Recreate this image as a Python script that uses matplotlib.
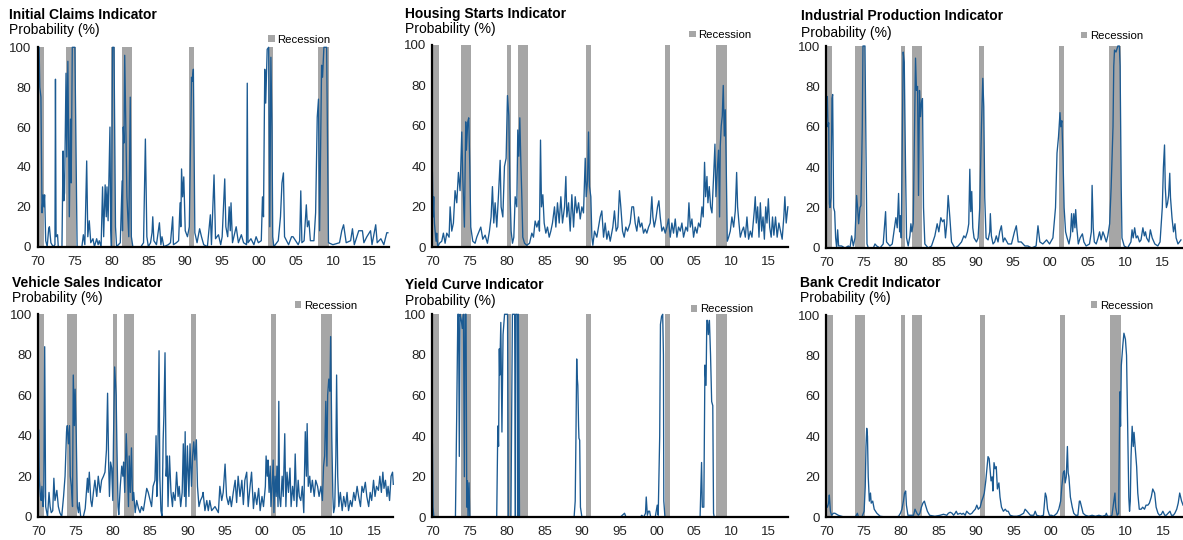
import matplotlib
matplotlib.use('Agg')
import matplotlib.pyplot as plt
from matplotlib.patches import Patch

plt.rcParams['font.family'] = ['Liberation Sans', 'DejaVu Sans']

# ---------------- data ----------------
rec_start = [1969.92, 1973.83, 1980.0, 1981.5, 1990.5, 2001.17, 2007.92]
rec_end = [1970.83, 1975.17, 1980.55, 1982.83, 1991.17, 2001.83, 2009.42]

tick_years = [1970, 1975, 1980, 1985, 1990, 1995, 2000, 2005, 2010, 2015]
tick_labels = ['70', '75', '80', '85', '90', '95', '00', '05', '10', '15']
y_ticks = [0, 20, 40, 60, 80, 100]

titles = ['Initial Claims Indicator', 'Housing Starts Indicator', 'Industrial Production Indicator',
          'Vehicle Sales Indicator', 'Yield Curve Indicator', 'Bank Credit Indicator']
subtitle = 'Probability (%)'
legend_label = 'Recession'

claims_pts = [(1970.0, 100), (1970.2, 100), (1970.3, 80), (1970.45, 75), (1970.6, 17), (1970.75, 26), (1970.85, 20),
    (1970.95, 26), (1971.1, 3), (1971.3, 0), (1971.5, 9), (1971.6, 10), (1971.8, 2), (1972.1, 0), (1972.35, 1),
    (1972.42, 84), (1972.5, 5), (1972.7, 6), (1972.8, 0), (1973.3, 0), (1973.45, 48), (1973.55, 23), (1973.65, 27),
    (1973.85, 87), (1973.95, 45), (1974.1, 93), (1974.3, 15), (1974.45, 64), (1974.55, 32), (1974.7, 100),
    (1975.05, 100), (1975.2, 50), (1975.35, 0), (1976.0, 0), (1976.2, 6), (1976.4, 1), (1976.65, 43), (1976.8, 5),
    (1977.0, 13), (1977.2, 2), (1977.5, 4), (1977.7, 0), (1978.0, 4), (1978.2, 1), (1978.35, 3), (1978.6, 0),
    (1978.8, 30), (1978.95, 5), (1979.15, 31), (1979.3, 15), (1979.4, 30), (1979.55, 13), (1979.8, 60), (1979.9, 10),
    (1980.0, 0), (1980.15, 100), (1980.35, 100), (1980.55, 10), (1980.7, 0), (1981.2, 2), (1981.45, 33), (1981.5, 8),
    (1981.6, 60), (1981.7, 52), (1981.8, 96), (1981.95, 60), (1982.1, 25), (1982.35, 5), (1982.55, 75), (1982.7, 5),
    (1982.9, 0), (1984.0, 0), (1984.35, 2), (1984.6, 54), (1984.8, 5), (1985.0, 0), (1985.3, 2), (1985.5, 7),
    (1985.6, 15), (1985.75, 3), (1986.1, 1), (1986.5, 12), (1986.7, 1), (1986.85, 5), (1987.1, 0), (1987.7, 1),
    (1988.0, 2), (1988.3, 15), (1988.4, 1), (1988.8, 2), (1989.1, 3), (1989.3, 22), (1989.4, 10), (1989.5, 39),
    (1989.65, 25), (1989.8, 35), (1990.0, 8), (1990.3, 5), (1990.55, 10), (1990.85, 85), (1990.95, 83), (1991.1, 89),
    (1991.3, 7), (1991.6, 2), (1991.95, 9), (1992.2, 5), (1992.5, 1), (1993.0, 0), (1993.4, 16), (1993.55, 1),
    (1993.9, 36), (1994.1, 4), (1994.5, 6), (1994.8, 1), (1995.0, 5), (1995.35, 34), (1995.5, 10), (1995.75, 5),
    (1995.95, 20), (1996.1, 8), (1996.2, 22), (1996.4, 2), (1996.9, 10), (1997.2, 2), (1997.6, 6), (1997.9, 2),
    (1998.3, 1), (1998.4, 82), (1998.5, 2), (1998.9, 4), (1999.3, 1), (1999.6, 5), (1999.9, 2), (2000.3, 3),
    (2000.46, 25), (2000.6, 15), (2000.77, 89), (2000.9, 72), (2001.1, 99), (2001.3, 100), (2001.45, 10),
    (2001.6, 95), (2001.75, 60), (2001.85, 5), (2002.0, 0), (2002.4, 2), (2002.6, 3), (2002.9, 15), (2003.1, 32),
    (2003.3, 37), (2003.45, 5), (2004.0, 1), (2004.4, 5), (2004.6, 5), (2005.3, 1), (2005.5, 3), (2005.65, 28),
    (2005.8, 2), (2006.1, 3), (2006.4, 21), (2006.55, 10), (2006.75, 13), (2006.95, 3), (2007.43, 3), (2007.66, 17),
    (2007.88, 65), (2008.05, 74), (2008.2, 8), (2008.47, 91), (2008.6, 85), (2008.78, 100), (2009.15, 100),
    (2009.4, 2), (2010.0, 1), (2010.9, 2), (2011.2, 8), (2011.45, 11), (2011.8, 2), (2012.4, 3), (2012.65, 9),
    (2012.9, 1), (2013.5, 8), (2014.0, 8), (2014.2, 2), (2014.6, 5), (2015.1, 8), (2015.3, 1), (2015.8, 11),
    (2016.0, 2), (2016.5, 4), (2016.9, 1), (2017.3, 7), (2017.45, 7)]

housing_pts = [(1970.0, 37), (1970.09, 15), (1970.18, 25), (1970.27, 12), (1970.36, 8), (1970.49, 3), (1970.58, 7),
    (1970.71, 0), (1970.94, 2), (1971.25, 3), (1971.47, 7), (1971.7, 2), (1971.92, 7), (1972.23, 5), (1972.37, 20),
    (1972.59, 8), (1972.81, 12), (1973.03, 28), (1973.26, 22), (1973.48, 37), (1973.7, 28), (1973.93, 57),
    (1974.06, 35), (1974.19, 20), (1974.28, 10), (1974.46, 62), (1974.55, 48), (1974.73, 62), (1974.86, 64),
    (1975.0, 40), (1975.13, 10), (1975.4, 3), (1975.71, 2), (1975.93, 5), (1976.25, 8), (1976.47, 10), (1976.74, 4),
    (1977.05, 6), (1977.36, 2), (1977.63, 8), (1977.85, 15), (1978.03, 30), (1978.21, 12), (1978.39, 22),
    (1978.61, 10), (1978.84, 26), (1979.06, 43), (1979.19, 20), (1979.42, 15), (1979.64, 40), (1979.86, 44),
    (1980.04, 75), (1980.22, 65), (1980.36, 30), (1980.53, 8), (1980.71, 2), (1980.89, 5), (1981.07, 25),
    (1981.29, 20), (1981.42, 58), (1981.56, 45), (1981.69, 64), (1981.83, 42), (1981.96, 25), (1982.09, 5),
    (1982.32, 2), (1982.63, 1), (1982.99, 2), (1983.3, 7), (1983.52, 5), (1983.74, 13), (1983.97, 10), (1984.19, 13),
    (1984.32, 8), (1984.46, 53), (1984.59, 20), (1984.77, 26), (1984.95, 12), (1985.17, 7), (1985.39, 10),
    (1985.62, 5), (1985.84, 8), (1986.06, 12), (1986.33, 20), (1986.51, 10), (1986.73, 22), (1986.96, 12),
    (1987.18, 25), (1987.4, 12), (1987.67, 20), (1987.85, 35), (1987.98, 15), (1988.21, 22), (1988.43, 8),
    (1988.65, 26), (1988.88, 10), (1989.1, 25), (1989.32, 17), (1989.55, 22), (1989.77, 14), (1989.99, 20),
    (1990.21, 17), (1990.44, 44), (1990.57, 25), (1990.75, 33), (1990.88, 57), (1991.01, 30), (1991.19, 25),
    (1991.33, 5), (1991.46, 1), (1991.68, 8), (1991.99, 5), (1992.22, 10), (1992.44, 15), (1992.66, 18),
    (1992.89, 5), (1993.11, 12), (1993.33, 4), (1993.55, 8), (1993.78, 3), (1994.13, 10), (1994.35, 18),
    (1994.58, 8), (1994.8, 10), (1995.02, 28), (1995.2, 20), (1995.43, 8), (1995.65, 5), (1995.87, 10), (1996.1, 8),
    (1996.45, 12), (1996.68, 20), (1996.9, 20), (1997.12, 12), (1997.34, 8), (1997.57, 15), (1997.79, 10),
    (1998.01, 12), (1998.24, 7), (1998.46, 9), (1998.68, 7), (1998.91, 10), (1999.13, 12), (1999.35, 25),
    (1999.49, 15), (1999.67, 10), (1999.89, 14), (2000.11, 20), (2000.29, 23), (2000.47, 15), (2000.69, 8),
    (2000.91, 10), (2001.14, 7), (2001.36, 10), (2001.58, 14), (2001.81, 5), (2002.03, 12), (2002.25, 7),
    (2002.48, 14), (2002.7, 5), (2002.92, 10), (2003.15, 8), (2003.37, 12), (2003.59, 5), (2003.9, 10), (2004.13, 8),
    (2004.31, 22), (2004.49, 10), (2004.71, 14), (2004.93, 5), (2005.15, 10), (2005.38, 7), (2005.6, 12),
    (2005.82, 10), (2006.05, 20), (2006.22, 15), (2006.4, 42), (2006.54, 25), (2006.72, 35), (2006.85, 22),
    (2007.03, 30), (2007.21, 20), (2007.39, 17), (2007.61, 35), (2007.79, 51), (2007.92, 25), (2008.1, 38),
    (2008.27, 48), (2008.41, 15), (2008.5, 50), (2008.63, 60), (2008.77, 65), (2008.9, 80), (2009.04, 55),
    (2009.17, 68), (2009.3, 40), (2009.44, 3), (2009.62, 5), (2009.84, 8), (2010.06, 15), (2010.29, 10),
    (2010.51, 18), (2010.69, 37), (2010.82, 20), (2011.0, 12), (2011.18, 5), (2011.4, 8), (2011.62, 10),
    (2011.85, 5), (2012.07, 15), (2012.29, 4), (2012.52, 8), (2012.74, 5), (2013.05, 18), (2013.18, 25),
    (2013.32, 12), (2013.5, 20), (2013.68, 5), (2013.86, 22), (2014.04, 8), (2014.22, 15), (2014.4, 4),
    (2014.58, 20), (2014.75, 12), (2014.93, 24), (2015.11, 10), (2015.31, 5), (2015.49, 15), (2015.67, 6),
    (2015.89, 15), (2016.11, 5), (2016.34, 12), (2016.56, 8), (2016.78, 4), (2017.0, 15), (2017.14, 25),
    (2017.32, 12), (2017.54, 20)]

ip_pts = [(1970.0, 62), (1970.05, 70), (1970.14, 75), (1970.23, 60), (1970.32, 62), (1970.41, 22), (1970.49, 20),
    (1970.63, 25), (1970.76, 74), (1970.85, 76), (1970.98, 20), (1971.12, 18), (1971.25, 5), (1971.39, 0),
    (1971.52, 9), (1971.65, 1), (1972.05, 1), (1972.5, 0), (1972.95, 1), (1973.17, 0), (1973.39, 6), (1973.62, 1),
    (1973.84, 5), (1974.06, 26), (1974.19, 20), (1974.33, 12), (1974.51, 20), (1974.64, 21), (1974.82, 60),
    (1974.91, 100), (1975.18, 100), (1975.31, 50), (1975.45, 2), (1975.63, 0), (1976.3, 0), (1976.52, 2),
    (1976.75, 1), (1977.19, 0), (1977.62, 2), (1977.94, 18), (1978.07, 3), (1978.52, 1), (1978.83, 2), (1979.05, 8),
    (1979.32, 15), (1979.5, 10), (1979.68, 27), (1979.82, 8), (1979.91, 16), (1980.04, 5), (1980.17, 50),
    (1980.3, 97), (1980.44, 92), (1980.61, 40), (1980.75, 5), (1980.97, 1), (1981.2, 6), (1981.33, 12),
    (1981.46, 8), (1981.64, 12), (1981.82, 60), (1981.95, 94), (1982.08, 78), (1982.22, 80), (1982.35, 26),
    (1982.48, 78), (1982.62, 65), (1982.75, 72), (1982.88, 74), (1983.02, 20), (1983.2, 2), (1983.64, 0),
    (1984.09, 1), (1984.54, 6), (1984.85, 12), (1985.07, 8), (1985.34, 15), (1985.56, 13), (1985.78, 14),
    (1985.96, 5), (1986.14, 12), (1986.32, 26), (1986.55, 15), (1986.77, 3), (1987.22, 0), (1987.66, 1),
    (1988.11, 3), (1988.42, 6), (1988.64, 5), (1988.9, 8), (1989.08, 12), (1989.22, 39), (1989.35, 18),
    (1989.48, 28), (1989.62, 10), (1989.79, 5), (1990.11, 3), (1990.33, 5), (1990.55, 20), (1990.78, 60),
    (1990.96, 84), (1991.09, 70), (1991.22, 25), (1991.4, 5), (1991.67, 4), (1991.89, 8), (1991.97, 17),
    (1992.11, 6), (1992.33, 2), (1992.55, 3), (1992.77, 6), (1993.0, 3), (1993.22, 8), (1993.45, 11), (1993.69, 3),
    (1993.9, 5), (1994.35, 2), (1994.8, 2), (1995.2, 8), (1995.45, 11), (1995.7, 3), (1996.1, 3), (1996.6, 1),
    (1997.0, 1), (1997.5, 0), (1998.1, 1), (1998.35, 11), (1998.6, 3), (1999.0, 2), (1999.5, 4), (1999.9, 2),
    (2000.35, 5), (2000.7, 20), (2000.9, 47), (2001.1, 55), (2001.3, 67), (2001.4, 60), (2001.55, 63), (2001.7, 45),
    (2001.85, 20), (2002.05, 8), (2002.25, 5), (2002.5, 2), (2002.7, 6), (2002.85, 17), (2003.0, 8), (2003.15, 17),
    (2003.3, 10), (2003.4, 19), (2003.55, 10), (2003.75, 2), (2004.0, 5), (2004.3, 7), (2004.5, 3), (2004.8, 1),
    (2005.25, 2), (2005.5, 8), (2005.6, 31), (2005.75, 10), (2005.9, 3), (2006.15, 2), (2006.4, 5), (2006.6, 8),
    (2006.8, 4), (2007.05, 8), (2007.25, 6), (2007.5, 3), (2007.7, 6), (2007.95, 12), (2008.15, 30), (2008.4, 60),
    (2008.5, 90), (2008.6, 98), (2008.8, 97), (2009.05, 100), (2009.25, 100), (2009.35, 90), (2009.5, 30),
    (2009.6, 5), (2009.9, 1), (2010.35, 0), (2010.8, 3), (2010.95, 9), (2011.1, 5), (2011.3, 10), (2011.5, 5),
    (2011.7, 6), (2011.95, 3), (2012.15, 4), (2012.4, 10), (2012.6, 6), (2012.75, 8), (2012.9, 5), (2013.2, 3),
    (2013.4, 9), (2013.65, 5), (2014.0, 2), (2014.4, 1), (2014.7, 3), (2015.0, 20), (2015.15, 40), (2015.3, 51),
    (2015.4, 30), (2015.55, 20), (2015.7, 22), (2015.85, 26), (2016.0, 37), (2016.1, 25), (2016.3, 15), (2016.5, 8),
    (2016.7, 12), (2016.85, 5), (2017.1, 2), (2017.3, 3), (2017.5, 4)]

vehicle_pts = [(1970.0, 20), (1970.05, 43), (1970.15, 18), (1970.3, 10), (1970.4, 8), (1970.5, 15), (1970.65, 5),
    (1970.75, 10), (1970.87, 84), (1971.0, 5), (1971.15, 2), (1971.25, 0), (1971.45, 12), (1971.6, 5), (1971.75, 2),
    (1971.95, 3), (1972.1, 19), (1972.25, 8), (1972.5, 13), (1972.7, 5), (1972.9, 2), (1973.15, 0), (1973.4, 10),
    (1973.6, 20), (1973.8, 42), (1973.9, 45), (1974.05, 36), (1974.2, 45), (1974.3, 20), (1974.45, 15), (1974.6, 5),
    (1974.7, 70), (1974.85, 45), (1974.95, 63), (1975.1, 40), (1975.25, 5), (1975.4, 2), (1975.5, 7), (1975.7, 0),
    (1976.05, 0), (1976.3, 4), (1976.6, 19), (1976.7, 12), (1976.85, 22), (1977.05, 8), (1977.2, 5), (1977.4, 12),
    (1977.6, 18), (1977.85, 10), (1978.05, 20), (1978.3, 12), (1978.5, 18), (1978.75, 20), (1978.95, 22),
    (1979.15, 33), (1979.3, 61), (1979.45, 25), (1979.55, 10), (1979.7, 27), (1979.85, 24), (1980.0, 8),
    (1980.1, 40), (1980.25, 74), (1980.45, 60), (1980.55, 35), (1980.7, 5), (1980.8, 1), (1981.0, 15), (1981.2, 25),
    (1981.35, 20), (1981.45, 27), (1981.6, 12), (1981.8, 41), (1981.95, 25), (1982.1, 5), (1982.2, 30),
    (1982.35, 12), (1982.5, 34), (1982.65, 8), (1982.8, 12), (1983.0, 2), (1983.2, 8), (1983.45, 4), (1983.65, 2),
    (1983.85, 5), (1984.1, 3), (1984.3, 8), (1984.55, 14), (1984.75, 12), (1985.0, 8), (1985.2, 5), (1985.4, 15),
    (1985.65, 18), (1985.8, 40), (1985.9, 10), (1986.0, 18), (1986.2, 82), (1986.3, 20), (1986.45, 3), (1986.6, 0),
    (1986.75, 38), (1986.85, 50), (1987.0, 81), (1987.15, 20), (1987.3, 30), (1987.4, 5), (1987.6, 30),
    (1987.8, 12), (1988.0, 5), (1988.1, 12), (1988.35, 8), (1988.55, 22), (1988.75, 10), (1988.9, 15), (1989.1, 5),
    (1989.3, 12), (1989.45, 36), (1989.6, 10), (1989.7, 42), (1989.8, 5), (1990.0, 35), (1990.2, 10),
    (1990.35, 36), (1990.55, 15), (1990.7, 30), (1990.85, 37), (1991.0, 28), (1991.2, 38), (1991.35, 15),
    (1991.55, 5), (1991.75, 8), (1992.0, 10), (1992.1, 12), (1992.35, 3), (1992.6, 8), (1992.8, 3), (1993.0, 8),
    (1993.25, 3), (1993.7, 5), (1994.15, 2), (1994.35, 15), (1994.6, 8), (1994.8, 12), (1995.05, 26),
    (1995.25, 10), (1995.5, 6), (1995.7, 10), (1995.9, 5), (1996.15, 12), (1996.4, 18), (1996.6, 7), (1996.8, 20),
    (1997.05, 10), (1997.3, 18), (1997.5, 6), (1997.7, 18), (1997.95, 22), (1998.15, 5), (1998.4, 15), (1998.6, 22),
    (1998.85, 4), (1999.05, 12), (1999.3, 6), (1999.55, 14), (1999.75, 3), (2000.0, 10), (2000.2, 5),
    (2000.45, 15), (2000.55, 30), (2000.7, 20), (2000.8, 28), (2000.95, 12), (2001.1, 25), (2001.2, 5),
    (2001.35, 15), (2001.5, 28), (2001.6, 2), (2001.75, 20), (2001.9, 10), (2002.0, 25), (2002.15, 5),
    (2002.25, 57), (2002.35, 10), (2002.5, 5), (2002.7, 20), (2002.85, 10), (2003.05, 41), (2003.2, 5),
    (2003.35, 22), (2003.55, 12), (2003.75, 24), (2003.9, 5), (2004.1, 15), (2004.3, 8), (2004.45, 31),
    (2004.65, 5), (2004.85, 18), (2005.0, 10), (2005.2, 8), (2005.4, 15), (2005.6, 2), (2005.8, 42), (2005.95, 20),
    (2006.05, 46), (2006.2, 15), (2006.4, 20), (2006.55, 12), (2006.75, 18), (2007.0, 10), (2007.2, 18),
    (2007.45, 15), (2007.65, 10), (2007.9, 15), (2008.1, 8), (2008.25, 25), (2008.4, 30), (2008.55, 57),
    (2008.7, 25), (2008.8, 60), (2008.95, 68), (2009.1, 62), (2009.2, 89), (2009.35, 40), (2009.5, 10),
    (2009.6, 2), (2009.75, 5), (2009.9, 30), (2010.0, 70), (2010.15, 20), (2010.3, 5), (2010.5, 12), (2010.75, 3),
    (2010.95, 10), (2011.2, 5), (2011.4, 12), (2011.6, 3), (2011.85, 8), (2012.05, 5), (2012.3, 12), (2012.5, 8),
    (2012.75, 15), (2012.95, 10), (2013.2, 5), (2013.4, 15), (2013.6, 12), (2013.85, 17), (2014.05, 10),
    (2014.3, 5), (2014.5, 12), (2014.7, 8), (2014.95, 18), (2015.15, 10), (2015.35, 15), (2015.6, 13), (2015.8, 20),
    (2016.0, 12), (2016.2, 22), (2016.35, 14), (2016.55, 18), (2016.75, 10), (2016.9, 15), (2017.1, 8),
    (2017.3, 20), (2017.5, 22), (2017.6, 16)]

yield_pts = [(1970.0, 36), (1970.08, 5), (1970.2, 0), (1973.08, 0), (1973.25, 50), (1973.4, 100), (1973.5, 100),
    (1973.6, 30), (1973.7, 100), (1973.87, 97), (1974.0, 93), (1974.15, 100), (1974.28, 20), (1974.37, 100),
    (1974.5, 100), (1974.6, 5), (1974.68, 18), (1974.77, 0), (1974.9, 17), (1975.0, 0), (1978.6, 0), (1978.75, 45),
    (1978.85, 35), (1978.95, 83), (1979.0, 70), (1979.15, 96), (1979.3, 42), (1979.45, 90), (1979.65, 100),
    (1980.05, 100), (1980.15, 0), (1980.5, 0), (1980.7, 100), (1981.0, 100), (1981.1, 0), (1981.15, 100),
    (1981.35, 100), (1981.45, 0), (1981.5, 100), (1981.65, 0), (1988.95, 0), (1989.1, 8), (1989.2, 40),
    (1989.3, 78), (1989.35, 70), (1989.45, 65), (1989.55, 45), (1989.6, 39), (1989.7, 38), (1989.8, 5), (1990.0, 0),
    (1995.1, 0), (1995.7, 2), (1995.9, 0), (1997.8, 0), (1998.0, 1), (1998.25, 0), (1998.5, 2), (1998.6, 10),
    (1998.75, 1), (1998.9, 3), (1999.05, 3), (1999.2, 0), (1999.8, 0), (2000.07, 6), (2000.2, 1), (2000.4, 40),
    (2000.5, 95), (2000.65, 99), (2000.8, 100), (2000.9, 80), (2000.95, 8), (2001.1, 0), (2005.8, 0), (2006.0, 27),
    (2006.1, 5), (2006.3, 5), (2006.45, 75), (2006.6, 65), (2006.7, 97), (2006.8, 97), (2006.9, 90), (2007.05, 97),
    (2007.2, 80), (2007.35, 57), (2007.5, 55), (2007.6, 2), (2007.7, 0), (2017.6, 0)]

credit_pts = [(1970.0, 6), (1970.15, 5), (1970.3, 7), (1970.4, 11), (1970.55, 3), (1970.7, 1), (1970.95, 2),
    (1971.15, 2), (1971.6, 1), (1972.5, 0), (1973.4, 0), (1973.85, 0), (1974.15, 2), (1974.3, 0), (1974.75, 0),
    (1975.05, 3), (1975.2, 15), (1975.3, 35), (1975.4, 44), (1975.5, 40), (1975.6, 20), (1975.75, 8), (1975.9, 12),
    (1976.0, 7), (1976.2, 8), (1976.4, 4), (1976.75, 2), (1977.2, 0.5), (1978.3, 0), (1979.2, 0), (1979.65, 0.5),
    (1979.9, 2), (1980.1, 4), (1980.3, 8), (1980.45, 12), (1980.6, 13), (1980.7, 6), (1980.9, 1), (1981.2, 1),
    (1981.65, 1), (1981.85, 4), (1982.1, 2), (1982.3, 1), (1982.5, 2), (1982.7, 5), (1982.9, 7), (1983.1, 8),
    (1983.25, 6), (1983.5, 3), (1983.8, 1), (1984.5, 0.5), (1985.2, 1), (1985.65, 1.5), (1986.1, 1), (1986.3, 2),
    (1986.55, 2.5), (1986.8, 2), (1987.0, 1), (1987.2, 2), (1987.35, 3), (1987.55, 1.5), (1987.9, 2),
    (1988.1, 1.5), (1988.3, 2), (1988.55, 1), (1988.75, 3), (1989.0, 2), (1989.2, 1.5), (1989.45, 2),
    (1989.65, 3), (1989.9, 4), (1990.1, 6), (1990.3, 4), (1990.55, 5), (1990.75, 8), (1990.95, 10), (1991.1, 12),
    (1991.3, 18), (1991.5, 26), (1991.6, 30), (1991.75, 29), (1991.9, 22), (1992.0, 18), (1992.15, 20),
    (1992.25, 13), (1992.4, 27), (1992.55, 24), (1992.7, 25), (1992.85, 14), (1993.05, 17), (1993.2, 10),
    (1993.4, 5), (1993.65, 3), (1993.9, 4), (1994.1, 3), (1994.3, 3), (1994.55, 1), (1995.0, 0.5), (1995.45, 0.5),
    (1995.9, 1), (1996.35, 2), (1996.55, 4), (1996.8, 3), (1997.25, 1), (1997.7, 1), (1997.9, 3), (1998.1, 1),
    (1998.6, 0.5), (1999.0, 1), (1999.25, 12), (1999.4, 10), (1999.55, 4), (1999.8, 1), (2000.1, 1),
    (2000.35, 0.5), (2000.8, 2), (2001.05, 4), (2001.3, 8), (2001.45, 15), (2001.65, 22), (2001.8, 23),
    (2001.9, 17), (2002.05, 20), (2002.2, 35), (2002.3, 22), (2002.4, 20), (2002.6, 10), (2002.85, 5), (2003.05, 2),
    (2003.3, 1), (2003.6, 1), (2003.8, 8), (2003.9, 8), (2004.1, 5), (2004.3, 2), (2004.6, 1), (2005.05, 0.5),
    (2005.5, 1), (2005.95, 0.5), (2006.4, 1), (2006.85, 0.5), (2007.3, 1), (2007.4, 2), (2007.55, 0.5),
    (2007.95, 0.5), (2008.15, 1), (2008.4, 8), (2008.55, 12), (2008.65, 5), (2008.85, 1), (2009.05, 2),
    (2009.2, 62), (2009.3, 45), (2009.4, 75), (2009.6, 85), (2009.75, 91), (2009.95, 88), (2010.1, 80),
    (2010.25, 45), (2010.4, 10), (2010.5, 3), (2010.6, 8), (2010.7, 30), (2010.85, 45), (2011.0, 35), (2011.1, 42),
    (2011.25, 35), (2011.45, 25), (2011.6, 12), (2011.8, 4), (2012.05, 4), (2012.25, 5), (2012.5, 4), (2012.7, 6),
    (2012.95, 6), (2013.15, 7), (2013.4, 10), (2013.6, 14), (2013.85, 12), (2014.05, 5), (2014.3, 2), (2014.5, 1),
    (2014.75, 1.5), (2014.95, 3), (2015.2, 1), (2015.4, 1), (2015.65, 2), (2015.9, 3), (2016.1, 1), (2016.35, 1),
    (2016.55, 2), (2016.8, 4), (2017.0, 7), (2017.2, 12), (2017.45, 8), (2017.65, 6)]

series = [claims_pts, housing_pts, ip_pts, vehicle_pts, yield_pts, credit_pts]

# ---------------- layout (pixels) ----------------
W, H = 1183, 540
LINE = '#1b5a92'
GRAY = '#a6a6a6'

boxes = [(37.6, 47.3, 389.0, 246.7), (432.4, 45.0, 788.3, 247.3), (826.3, 46.0, 1181.7, 248.0),
         (38.2, 314.3, 393.3, 516.7), (432.4, 314.3, 788.3, 517.3), (826.3, 315.0, 1182.7, 517.3)]
title_pos = [(9, 19.0, 34.3), (405, 18.3, 33.3), (801, 20.0, 36.7),
             (11.7, 286.7, 302.3), (405, 289.0, 305.0), (800, 286.7, 301.7)]
legend_pos = [(268.3, 39.7), (689.3, 35.0), (1081.0, 36.0), (295.0, 305.7), (690.7, 309.2), (1090.7, 305.7)]

fig = plt.figure(figsize=(W / 100, H / 100), dpi=100)

for i, pts in enumerate(series):
    l, t, r, b = boxes[i]
    ax = fig.add_axes([l / W, 1 - b / H, (r - l) / W, (b - t) / H])
    for s, e in zip(rec_start, rec_end):
        ax.axvspan(s, e, color=GRAY, lw=0, zorder=1)
    xs = [p[0] for p in pts]
    ys = [p[1] for p in pts]
    ax.plot(xs, ys, color=LINE, lw=0.95, zorder=3, clip_on=False)
    ax.set_xlim(1970, 2017.6)
    ax.set_ylim(0, 100)
    ax.set_xticks(tick_years)
    ax.set_xticklabels(tick_labels)
    ax.set_yticks(y_ticks)
    for sp in ['top', 'right']:
        ax.spines[sp].set_visible(False)
    for sp in ['left', 'bottom']:
        ax.spines[sp].set_linewidth(1.6)
        ax.spines[sp].set_color('black')
        ax.spines[sp].set_zorder(4)
    ax.tick_params(axis='x', length=0, pad=6.5, labelsize=9.5, colors='#222222')
    ax.tick_params(axis='y', length=0, pad=4.5, labelsize=9.5, colors='#222222')
    ax.set_facecolor('none')

    tx, ty, sy = title_pos[i]
    fig.text(tx / W, 1 - ty / H, titles[i], fontsize=10, fontweight='bold', va='baseline', ha='left')
    fig.text(tx / W, 1 - sy / H, subtitle, fontsize=10, va='baseline', ha='left')

    lx, ly = legend_pos[i]
    ax.legend(handles=[Patch(facecolor=GRAY, edgecolor='none')], labels=[legend_label],
              loc='center left', bbox_to_anchor=(lx / W, 1 - ly / H), bbox_transform=fig.transFigure,
              frameon=False, fontsize=8.2, handlelength=0.55, handleheight=0.55, handletextpad=0.25,
              borderpad=0, borderaxespad=0)

fig.savefig('out.png', dpi=100)
